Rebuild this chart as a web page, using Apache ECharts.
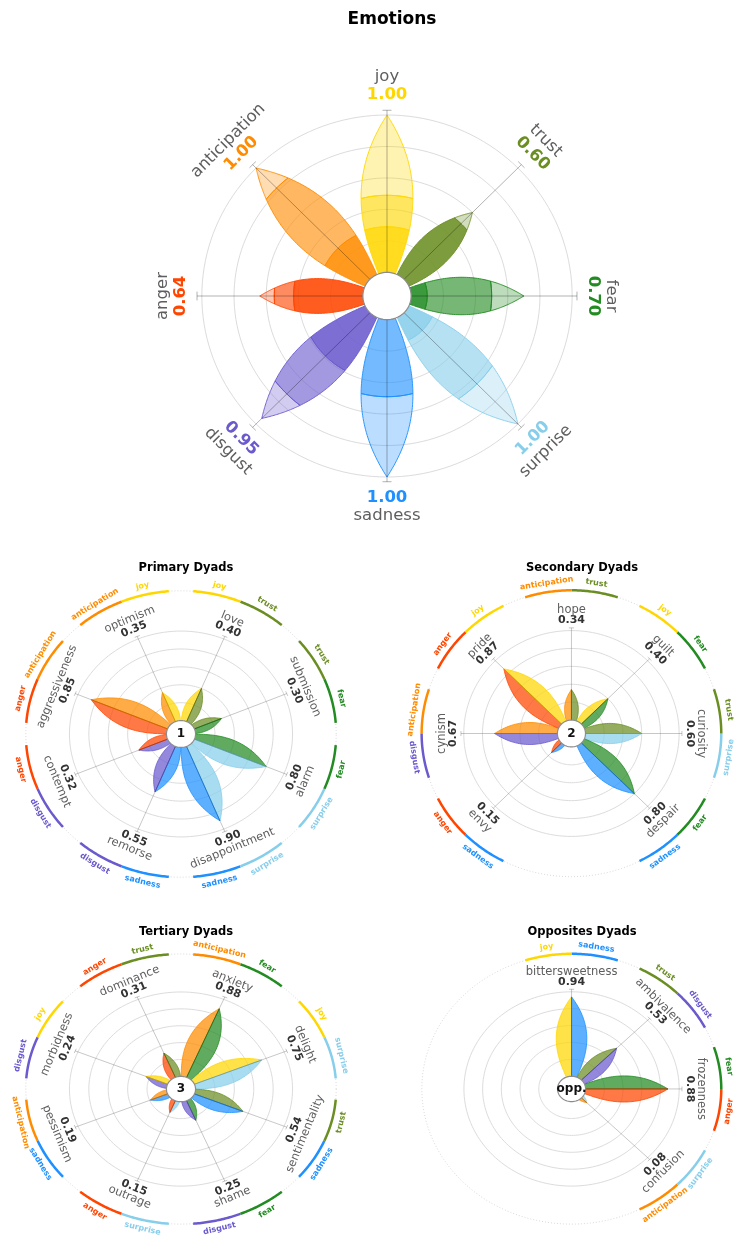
<!DOCTYPE html>
<html>
<head>
<meta charset="utf-8">
<script src="https://cdn.jsdelivr.net/npm/echarts@6/dist/echarts.min.js"></script>
<style>
  html, body { margin: 0; background: #fff; }
  #chart { width: 740px; height: 1241px; }
</style>
</head>
<body>
<div id="chart"></div>
<script>
// ---- data ----
const emotionNames = ['joy', 'trust', 'fear', 'surprise', 'sadness', 'disgust', 'anger', 'anticipation'];
const emotionAngles = [90, 45, 0, -45, -90, -135, 180, 135];
const emotionScores = [1.00, 0.60, 0.70, 1.00, 1.00, 0.95, 0.64, 1.00];
// intensity levels of each petal from the centre out, the outer level is what is left of the score
const emotionInner = [0.29, 0.50, 0.10, 0.16, 0.00, 0.39, 0.43, 0.28];
const emotionMiddle = [0.20, 0.00, 0.40, 0.48, 0.49, 0.34, 0.12, 0.54];

const primaryNames = ['love', 'submission', 'alarm', 'disappointment', 'remorse', 'contempt', 'aggressiveness', 'optimism'];
const primaryAngles = [67.5, 22.5, -22.5, -67.5, -112.5, -157.5, 157.5, 112.5];
const primaryValues = [0.40, 0.30, 0.80, 0.90, 0.55, 0.32, 0.85, 0.35];
const primaryCW = ['trust', 'fear', 'surprise', 'sadness', 'disgust', 'anger', 'anticipation', 'joy'];
const primaryCCW = ['joy', 'trust', 'fear', 'surprise', 'sadness', 'disgust', 'anger', 'anticipation'];

const secondaryNames = ['hope', 'guilt', 'curiosity', 'despair', 'envy', 'cynism', 'pride'];
const secondaryAngles = [90, 45, 0, -45, -135, 180, 135];
const secondaryValues = [0.34, 0.40, 0.60, 0.80, 0.15, 0.67, 0.87];
const secondaryCW = ['trust', 'fear', 'surprise', 'sadness', 'anger', 'anticipation', 'joy'];
const secondaryCCW = ['anticipation', 'joy', 'trust', 'fear', 'sadness', 'disgust', 'anger'];

const tertiaryNames = ['dominance', 'anxiety', 'delight', 'sentimentality', 'shame', 'outrage', 'pessimism', 'morbidness'];
const tertiaryAngles = [112.5, 67.5, 22.5, -22.5, -67.5, -112.5, -157.5, 157.5];
const tertiaryValues = [0.31, 0.88, 0.75, 0.54, 0.25, 0.15, 0.19, 0.24];
const tertiaryCW = ['trust', 'fear', 'surprise', 'sadness', 'disgust', 'anger', 'anticipation', 'joy'];
const tertiaryCCW = ['anger', 'anticipation', 'joy', 'trust', 'fear', 'surprise', 'sadness', 'disgust'];

const oppositeNames = ['bittersweetness', 'ambivalence', 'frozenness', 'confusion'];
const oppositeAngles = [90, 45, 0, -45];
const oppositeValues = [0.94, 0.53, 0.88, 0.08];
const oppositeCW = ['sadness', 'disgust', 'anger', 'anticipation'];
const oppositeCCW = ['joy', 'trust', 'fear', 'surprise'];

const gridLevels = [0.2, 0.4, 0.6, 0.8, 1.0];

const colors = {
  joy: '#FFD700', trust: '#6B8E23', fear: '#228B22', surprise: '#87CEEB',
  sadness: '#1E90FF', disgust: '#6A5ACD', anger: '#FF4500', anticipation: '#FF8C00'
};

// ---- geometry (in axis units) ----
const FONT = 'DejaVu Sans';
const OFFSET = 0.15;      // hole in the middle, scores start from here
const AXIS_END = 1.18;
const RING_R = 1.6;
const RING_LABEL_R = 1.7;
const RING_GAP = 4.5;
const EMOTION_W = 0.14;   // half width of a petal / its length
const DYAD_W = 0.15;
const SHAPE_MAX = Math.pow(0.545, 1.2) * 0.455;

const rad = d => d * Math.PI / 180;
const polar = (r, deg) => [r * Math.cos(rad(deg)), r * Math.sin(rad(deg))];

function rgba(hex, a) {
  const n = parseInt(hex.slice(1), 16);
  return `rgba(${n >> 16},${(n >> 8) & 255},${n & 255},${a})`;
}
function textRotation(deg) {
  return rad(deg >= 0 && deg <= 180 ? deg - 90 : deg + 90);
}
// leaf shape, a bit fuller towards the tip
function halfWidth(t, len, w) {
  if (t <= 0 || t >= 1) return 0;
  return w * len * Math.pow(t, 1.2) * (1 - t) / SHAPE_MAX;
}
function edgePoint(deg, len, w, t, side) {
  const a = rad(deg), s = t * len, h = side * halfWidth(t, len, w);
  return [s * Math.cos(a) - h * Math.sin(a), s * Math.sin(a) + h * Math.cos(a)];
}
function tAtRadius(len, w, r) {
  if (r <= 0) return 0;
  if (r >= len) return 1;
  let lo = 0, hi = 1;
  for (let k = 0; k < 40; k++) {
    const m = (lo + hi) / 2, s = m * len, h = halfWidth(m, len, w);
    if (Math.sqrt(s * s + h * h) < r) lo = m; else hi = m;
  }
  return (lo + hi) / 2;
}
function circlePoints(r, from, to, n) {
  const pts = [];
  for (let k = 0; k <= n; k++) pts.push(polar(r, from + (to - from) * k / n));
  return pts;
}
// part of a petal between two radii, cut with arcs
function bandPoints(deg, len, w, ra, rb) {
  const ta = tAtRadius(len, w, ra), tb = tAtRadius(len, w, rb), N = 30;
  const pts = [];
  for (let k = 0; k <= N; k++) pts.push(edgePoint(deg, len, w, ta + (tb - ta) * k / N, 1));
  if (tb < 1) {
    const d = Math.atan2(halfWidth(tb, len, w), tb * len) * 180 / Math.PI;
    pts.push(...circlePoints(rb, deg + d, deg - d, 12));
  }
  for (let k = N; k >= 0; k--) pts.push(edgePoint(deg, len, w, ta + (tb - ta) * k / N, -1));
  if (ta > 0) {
    const d = Math.atan2(halfWidth(ta, len, w), ta * len) * 180 / Math.PI;
    pts.push(...circlePoints(ra, deg - d, deg + d, 12));
  }
  return pts;
}
function halfPetal(deg, len, w, side) {
  const pts = [[0, 0]];
  for (let k = 0; k <= 40; k++) pts.push(edgePoint(deg, len, w, k / 40, side));
  return pts;
}

// ---- series builders ----
function customSeries(g, count, draw) {
  return {
    type: 'custom', xAxisIndex: g, yAxisIndex: g, silent: true, clip: false,
    data: Array.from({ length: count }, () => [0, 0]),
    renderItem: (params, api) => draw(params.dataIndex, p => api.coord(p))
  };
}
function gridSeries(g) {
  return customSeries(g, gridLevels.length, (i, px) => ({
    type: 'polyline',
    shape: { points: circlePoints(OFFSET + gridLevels[i], 0, 360, 160).map(px) },
    style: { stroke: '#dcdcdc', lineWidth: 1, fill: null }
  }));
}
function axisSeries(g, angles, color) {
  return customSeries(g, angles.length, (i, px) => {
    const a = angles[i], end = polar(AXIS_END, a), cap = polar(0.028, a + 90);
    return {
      type: 'group', children: [
        { type: 'polyline', shape: { points: [[0, 0], end].map(px) }, style: { stroke: color, lineWidth: 1, fill: null } },
        { type: 'polyline', shape: { points: [[end[0] - cap[0], end[1] - cap[1]], [end[0] + cap[0], end[1] + cap[1]]].map(px) }, style: { stroke: color, lineWidth: 1, fill: null } }
      ]
    };
  });
}
function holeSeries(g, text) {
  return customSeries(g, 1, (i, px) => {
    const children = [{
      type: 'polygon', shape: { points: circlePoints(OFFSET, 0, 360, 80).map(px) },
      style: { fill: '#fff', stroke: '#8c8c8c', lineWidth: 1.2 }
    }];
    if (text) {
      const c = px([0, 0]);
      children.push({ type: 'text', x: c[0], y: c[1],
        style: { text, fontSize: 12, fontWeight: 'bold', fontFamily: FONT, fill: '#111', align: 'center', verticalAlign: 'middle' } });
    }
    return { type: 'group', children };
  });
}
function labelSeries(g, names, angles, values, opt) {
  return customSeries(g, names.length, (i, px) => {
    const a = angles[i], rot = textRotation(a);
    const v = px(polar(opt.valueR, a)), n = px(polar(opt.nameR, a));
    return {
      type: 'group', children: [
        { type: 'text', x: v[0], y: v[1], rotation: rot,
          style: { text: values[i].toFixed(2), fontSize: opt.valueSize, fontWeight: 'bold', fontFamily: FONT, fill: opt.valueColor(i), align: 'center', verticalAlign: 'middle' } },
        { type: 'text', x: n[0], y: n[1], rotation: rot,
          style: { text: names[i], fontSize: opt.nameSize, fontFamily: FONT, fill: '#5e5e5e', align: 'center', verticalAlign: 'middle' } }
      ]
    };
  });
}
function ringSeries(g, angles, cw, ccw) {
  return customSeries(g, angles.length, (i, px) => {
    const a = angles[i], children = [];
    [[cw[i], a - 22.5 + RING_GAP, a], [ccw[i], a, a + 22.5 - RING_GAP]].forEach(([emo, from, to]) => {
      children.push({ type: 'polyline', shape: { points: circlePoints(RING_R, from, to, 30).map(px) },
        style: { stroke: colors[emo], lineWidth: 2.5, fill: null } });
      const mid = (from + to) / 2, p = px(polar(RING_LABEL_R, mid));
      children.push({ type: 'text', x: p[0], y: p[1], rotation: textRotation(mid),
        style: { text: emo, fontSize: 8, fontWeight: 'bold', fontFamily: FONT, fill: colors[emo], align: 'center', verticalAlign: 'middle' } });
    });
    return { type: 'group', children };
  });
}
function dottedRingSeries(g) {
  return customSeries(g, 1, (i, px) => ({
    type: 'polyline', shape: { points: circlePoints(RING_R, 0, 360, 240).map(px) },
    style: { stroke: '#cfcfcf', lineWidth: 0.8, lineDash: [1, 2], fill: null }
  }));
}
function dyadPetalSeries(g, angles, values, cw, ccw) {
  return customSeries(g, angles.length, (i, px) => {
    const len = OFFSET + values[i];
    return {
      type: 'group', children: [[ccw[i], 1], [cw[i], -1]].map(([emo, side]) => ({
        type: 'polygon', shape: { points: halfPetal(angles[i], len, DYAD_W, side).map(px) },
        style: { fill: rgba(colors[emo], 0.72), stroke: colors[emo], lineWidth: 0.8 }
      }))
    };
  });
}
function emotionPetalSeries(g) {
  return customSeries(g, emotionNames.length, (i, px) => {
    const a = emotionAngles[i], c = colors[emotionNames[i]];
    const len = OFFSET + emotionScores[i];
    const r1 = OFFSET + emotionInner[i], r2 = r1 + emotionMiddle[i];
    const outer = emotionScores[i] - emotionInner[i] - emotionMiddle[i];
    const bands = [[0, r1, 0.88, emotionInner[i]], [r1, r2, 0.62, emotionMiddle[i]], [r2, len, 0.3, outer]];
    return {
      type: 'group', children: bands.filter(b => b[3] > 0.001).map(([ra, rb, al]) => ({
        type: 'polygon', shape: { points: bandPoints(a, len, EMOTION_W, ra, rb).map(px) },
        style: { fill: rgba(c, al), stroke: rgba(c, 0.9), lineWidth: 1 }
      }))
    };
  });
}

// ---- layout ----
const grids = [
  { left: 97.2, top: 12.7, width: 579.6, height: 566.6 },
  { left: 6.4, top: 572.9, width: 349.2, height: 322.2 },
  { left: 402.9, top: 572.4, width: 349.2, height: 322.2 },
  { left: 6.4, top: 937.1, width: 349.2, height: 322.2 },
  { left: 403.1, top: 936.9, width: 349.2, height: 322.2 }
];

const dyadCharts = [
  { g: 1, names: primaryNames, angles: primaryAngles, values: primaryValues, cw: primaryCW, ccw: primaryCCW, center: '1' },
  { g: 2, names: secondaryNames, angles: secondaryAngles, values: secondaryValues, cw: secondaryCW, ccw: secondaryCCW, center: '2' },
  { g: 3, names: tertiaryNames, angles: tertiaryAngles, values: tertiaryValues, cw: tertiaryCW, ccw: tertiaryCCW, center: '3' },
  { g: 4, names: oppositeNames, angles: oppositeAngles, values: oppositeValues, cw: oppositeCW, ccw: oppositeCCW, center: 'opp.' }
];

const series = [
  gridSeries(0),
  emotionPetalSeries(0),
  axisSeries(0, emotionAngles, 'rgba(0,0,0,0.3)'),
  holeSeries(0, ''),
  labelSeries(0, emotionNames, emotionAngles, emotionScores, {
    valueR: 1.28, nameR: 1.395, valueSize: 16.5, nameSize: 16.5,
    valueColor: i => colors[emotionNames[i]]
  })
];
dyadCharts.forEach(d => {
  series.push(
    gridSeries(d.g),
    dottedRingSeries(d.g),
    ringSeries(d.g, d.angles, d.cw, d.ccw),
    dyadPetalSeries(d.g, d.angles, d.values, d.cw, d.ccw),
    axisSeries(d.g, d.angles, 'rgba(0,0,0,0.22)'),
    holeSeries(d.g, d.center),
    labelSeries(d.g, d.names, d.angles, d.values, {
      valueR: 1.265, nameR: 1.385, valueSize: 11, nameSize: 11.5, valueColor: () => '#333'
    })
  );
});

const titleStyle = size => ({ fontSize: size, fontWeight: 'bold', fontFamily: FONT, color: '#000' });
const option = {
  animation: false,
  backgroundColor: '#fff',
  title: [
    { text: 'Emotions', left: 387, top: 6, textAlign: 'center', textStyle: titleStyle(17) },
    { text: 'Primary Dyads', left: 181, top: 557, textAlign: 'center', textStyle: titleStyle(11.5) },
    { text: 'Secondary Dyads', left: 577, top: 557, textAlign: 'center', textStyle: titleStyle(11.5) },
    { text: 'Tertiary Dyads', left: 181, top: 921, textAlign: 'center', textStyle: titleStyle(11.5) },
    { text: 'Opposites Dyads', left: 577, top: 921, textAlign: 'center', textStyle: titleStyle(11.5) }
  ],
  grid: grids,
  xAxis: grids.map((_, g) => ({ gridIndex: g, type: 'value', min: -1.8, max: 1.8, show: false })),
  yAxis: grids.map((_, g) => ({ gridIndex: g, type: 'value', min: -1.8, max: 1.8, show: false })),
  series
};

const chart = echarts.init(document.getElementById('chart'));
chart.setOption(option);
window.addEventListener('resize', () => chart.resize());
</script>
</body>
</html>
